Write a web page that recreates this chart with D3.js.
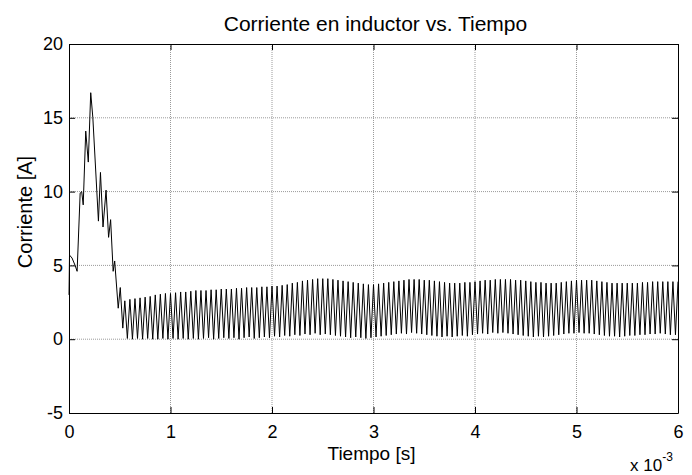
<!DOCTYPE html>
<html>
<head>
<meta charset="utf-8">
<script src="https://cdn.jsdelivr.net/npm/d3@7"></script>
<style>
body { margin: 0; background: #fff; }
text { font-family: "Liberation Sans", Arial, sans-serif; fill: #000; }
</style>
</head>
<body>
<div class="chart"></div>
<script>
// tick values (time in ms, shown with the x 10^-3 multiplier)
var xTicks = [0, 1, 2, 3, 4, 5, 6];
var yTicks = [-5, 0, 5, 10, 15, 20];

// start-up transient, read point by point (t in ms, current in A)
var transientT = [0, 0.005, 0.03, 0.06, 0.08, 0.11, 0.125, 0.14, 0.165, 0.19, 0.214, 0.235,
  0.29, 0.31, 0.335, 0.365, 0.39, 0.41, 0.435, 0.45, 0.485, 0.505, 0.53, 0.55];
var transientI = [3.0, 5.7, 5.5, 5.0, 4.6, 9.9, 10.0, 9.1, 14.1, 12.0, 16.7, 15.0,
  8.0, 11.3, 7.6, 10.1, 6.9, 8.1, 4.6, 5.3, 2.1, 3.5, 0.75, 2.6];

// switching ripple after the transient: one trough and one peak per period
var rippleStart = 0.55;
var periodMs = 0.05;
var troughs = [
  0.05, 0.0, 0.05, 0.0, 0.05, 0.0, 0.0, 0.05, 0.0, 0.05,
  0.0, 0.05, 0.0, 0.05, 0.0, 0.05, 0.1, 0.0, 0.05, 0.1,
  0.05, 0.1, 0.0, 0.1, 0.15, 0.05, 0.1, 0.15, 0.1, 0.2,
  0.15, 0.25, 0.2, 0.3, 0.25, 0.35, 0.3, 0.4, 0.3, 0.35,
  0.3, 0.25, 0.2, 0.15, 0.1, 0.15, 0.1, 0.05, 0.1, 0.15,
  0.2, 0.25, 0.3, 0.35, 0.4, 0.35, 0.45, 0.4, 0.35, 0.3,
  0.25, 0.2, 0.15, 0.2, 0.15, 0.2, 0.25, 0.2, 0.3, 0.35,
  0.4, 0.35, 0.45, 0.4, 0.45, 0.4, 0.35, 0.3, 0.25, 0.2,
  0.15, 0.2, 0.15, 0.2, 0.25, 0.3, 0.35, 0.4, 0.4, 0.45,
  0.4, 0.4, 0.35, 0.3, 0.25, 0.2, 0.2, 0.15, 0.2, 0.25,
  0.25, 0.3, 0.3, 0.35, 0.35, 0.4, 0.35, 0.3, 0.3];
var peaks = [
  2.7, 2.75, 2.8, 2.85, 2.9, 3.0, 3.05, 3.1, 3.1, 3.15,
  3.2, 3.2, 3.25, 3.3, 3.3, 3.3, 3.35, 3.35, 3.4, 3.4,
  3.4, 3.45, 3.45, 3.5, 3.5, 3.5, 3.55, 3.55, 3.6, 3.6,
  3.65, 3.7, 3.8, 3.85, 3.95, 4.0, 4.05, 4.1, 4.1, 4.1,
  4.05, 4.0, 3.95, 3.9, 3.85, 3.8, 3.75, 3.7, 3.7, 3.75,
  3.8, 3.85, 3.9, 3.95, 4.0, 4.05, 4.05, 4.05, 4.0, 4.0,
  3.95, 3.9, 3.85, 3.8, 3.8, 3.8, 3.85, 3.85, 3.9, 3.95,
  4.0, 4.0, 4.05, 4.05, 4.05, 4.05, 4.0, 4.0, 3.95, 3.9,
  3.85, 3.85, 3.8, 3.8, 3.8, 3.85, 3.9, 3.95, 4.0, 4.0,
  4.0, 4.0, 3.95, 3.9, 3.85, 3.8, 3.8, 3.8, 3.8, 3.8,
  3.8, 3.85, 3.85, 3.9, 3.9, 3.9, 3.9, 3.9, 3.9];

var width = 692, height = 475;
var margin = {top: 44, right: 14, bottom: 62, left: 69};
var w = width - margin.left - margin.right,
    h = height - margin.top - margin.bottom;

var pts = [];
transientT.forEach(function(t, i) { pts.push([t, transientI[i]]); });
troughs.forEach(function(v, i) {
  pts.push([rippleStart + periodMs * (i + 0.5), v]);
  pts.push([rippleStart + periodMs * (i + 1), peaks[i]]);
});

var svg = d3.select(".chart").append("svg")
    .attr("width", width)
    .attr("height", height);

var g = svg.append("g")
    .attr("transform", "translate(" + margin.left + "," + margin.top + ")");

var xscale = d3.scaleLinear().domain([0, 6]).range([0, w]);
var yscale = d3.scaleLinear().domain([-5, 20]).range([h, 0]);

// grid
g.append("g").selectAll("line")
  .data(xTicks.slice(1, -1)).enter().append("line")
    .attr("x1", function(d) { return xscale(d); })
    .attr("x2", function(d) { return xscale(d); })
    .attr("y1", 0).attr("y2", h)
    .style("stroke", "#9a9a9a").style("stroke-dasharray", "1,1").style("stroke-width", 1);
g.append("g").selectAll("line")
  .data(yTicks.slice(1, -1)).enter().append("line")
    .attr("y1", function(d) { return yscale(d); })
    .attr("y2", function(d) { return yscale(d); })
    .attr("x1", 0).attr("x2", w)
    .style("stroke", "#9a9a9a").style("stroke-dasharray", "1,1").style("stroke-width", 1);

// signal
var line = d3.line()
    .x(function(d) { return xscale(d[0]); })
    .y(function(d) { return yscale(d[1]); });
g.append("path")
    .datum(pts)
    .attr("d", line)
    .style("fill", "none")
    .style("stroke", "#000")
    .style("stroke-width", 1);

// axes, MATLAB style: ticks inside, box all round
var fmt = function(d) { return String(d); };
var x_axis = d3.axisBottom(xscale).tickValues(xTicks).tickFormat(fmt).tickSizeInner(-6).tickSizeOuter(0).tickPadding(12);
var y_axis = d3.axisLeft(yscale).tickValues(yTicks).tickFormat(fmt).tickSizeInner(-6).tickSizeOuter(0).tickPadding(6);

g.append("g").attr("class", "ax")
    .attr("transform", "translate(0," + h + ")")
    .call(x_axis);
g.append("g").attr("class", "ax")
    .call(y_axis);
g.append("g").attr("class", "ax")
    .call(d3.axisTop(xscale).tickValues(xTicks).tickSizeInner(-6).tickSizeOuter(0).tickFormat(""));
g.append("g").attr("class", "ax")
    .attr("transform", "translate(" + w + ",0)")
    .call(d3.axisRight(yscale).tickValues(yTicks).tickSizeInner(-6).tickSizeOuter(0).tickFormat(""));

g.selectAll(".ax path").style("stroke", "#000").style("stroke-width", 1);
g.selectAll(".ax line").style("stroke", "#000");
g.selectAll(".ax text").style("font-size", "18px").style("font-family", "Liberation Sans, Arial, sans-serif").style("fill", "#000");

// texts
svg.append("text")
    .attr("x", margin.left + w / 2 + 2).attr("y", 31)
    .attr("text-anchor", "middle").style("font-size", "21px")
    .text("Corriente en inductor vs. Tiempo");

svg.append("text")
    .attr("x", margin.left + w / 2 - 2).attr("y", 460)
    .attr("text-anchor", "middle").style("font-size", "19px")
    .text("Tiempo [s]");

svg.append("text")
    .attr("transform", "translate(32,212) rotate(-90)")
    .attr("text-anchor", "middle").style("font-size", "20px")
    .text("Corriente [A]");

var mult = svg.append("text")
    .attr("x", 630).attr("y", 471)
    .style("font-size", "17px");
mult.append("tspan").text("x 10");
mult.append("tspan").attr("dy", -10).style("font-size", "12px").text("-3");
</script>
</body>
</html>
